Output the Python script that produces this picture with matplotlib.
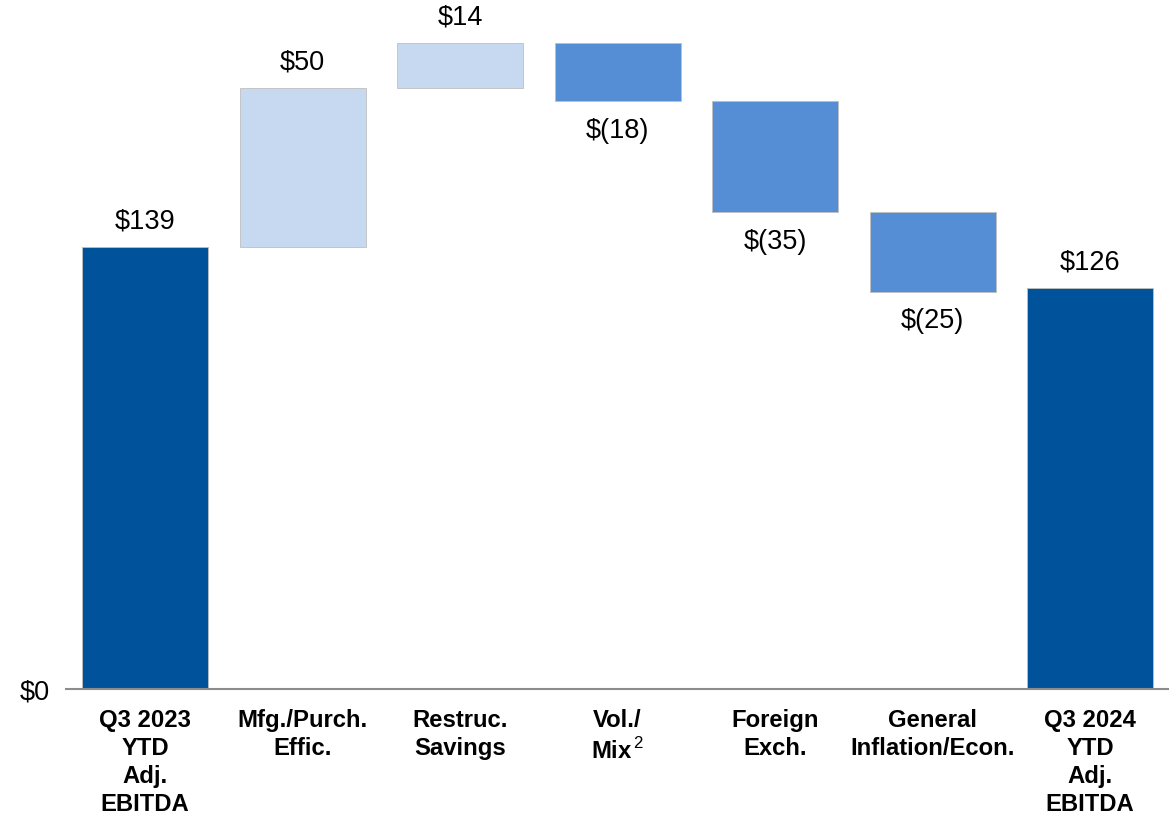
import matplotlib
matplotlib.use("Agg")
import matplotlib.pyplot as plt

plt.rcParams['font.family'] = ['Liberation Sans', 'DejaVu Sans']
plt.rcParams['mathtext.fontset'] = 'custom'
plt.rcParams['mathtext.rm'] = 'Liberation Sans'

# ── Data ──────────────────────────────────────────────────────────────────────
categories = ["Q3 2023\nYTD\nAdj.\nEBITDA", "Mfg./Purch.\nEffic.", "Restruc.\nSavings",
              "Vol./\nMix$^{\\,2}$", "Foreign\nExch.", "General\nInflation/Econ.",
              "Q3 2024\nYTD\nAdj.\nEBITDA"]
changes = [139, 50, 14, -18, -35, -25, 126]
kinds = ['total', 'delta', 'delta', 'delta', 'delta', 'delta', 'total']
value_labels = ["$139", "$50", "$14", "$(18)", "$(35)", "$(25)", "$126"]

DARK = '#00529B'
LIGHT = '#C6D9F1'
MID = '#558ED5'

# ── Waterfall geometry ───────────────────────────────────────────────────────
bottoms, heights, colors = [], [], []
running = 0
for v, k in zip(changes, kinds):
    if k == 'total':
        bottoms.append(0)
        heights.append(v)
        colors.append(DARK)
        running = v
    else:
        if v >= 0:
            bottoms.append(running)
            colors.append(LIGHT)
        else:
            bottoms.append(running + v)
            colors.append(MID)
        heights.append(abs(v))
        running += v

# ── Plot ──────────────────────────────────────────────────────────────────────
fig = plt.figure(figsize=(11.69, 8.19), dpi=100)
ax = fig.add_axes([66.25 / 1169, 130 / 819, 1102.5 / 1169, 689 / 819])

x = list(range(len(categories)))
ax.bar(x, heights, bottom=bottoms, width=0.8, color=colors,
       edgecolor='#BFBFBF', linewidth=0.6)

for i, (b, h, v, lab) in enumerate(zip(bottoms, heights, changes, value_labels)):
    if v >= 0:
        ax.annotate(lab, xy=(i, b + h), xytext=(0, 18.5), textcoords='offset points',
                    ha='center', va='center', fontsize=19.5)
    else:
        ax.annotate(lab, xy=(i, b), xytext=(0, -21.5), textcoords='offset points',
                    ha='center', va='center', fontsize=19.5)

for i, cat in enumerate(categories):
    ax.annotate(cat, xy=(i, 0), xycoords=('data', 'axes fraction'),
                xytext=(0, -14.5), textcoords='offset points',
                ha='center', va='top', multialignment='center',
                fontsize=17.2, fontweight='bold', linespacing=1.27)

ax.set_xlim(-0.5, len(categories) - 0.5)
ax.set_ylim(0, 689 / 3.18)

for s in ['top', 'right', 'left']:
    ax.spines[s].set_visible(False)
ax.spines['bottom'].set_color('#8C8C8C')
ax.spines['bottom'].set_linewidth(1.5)
ax.set_xticks([])
ax.set_yticks([0])
ax.set_yticklabels(['$0'], fontsize=19.5)
ax.tick_params(axis='y', length=0, pad=12)

fig.savefig("out.png", dpi=100)
